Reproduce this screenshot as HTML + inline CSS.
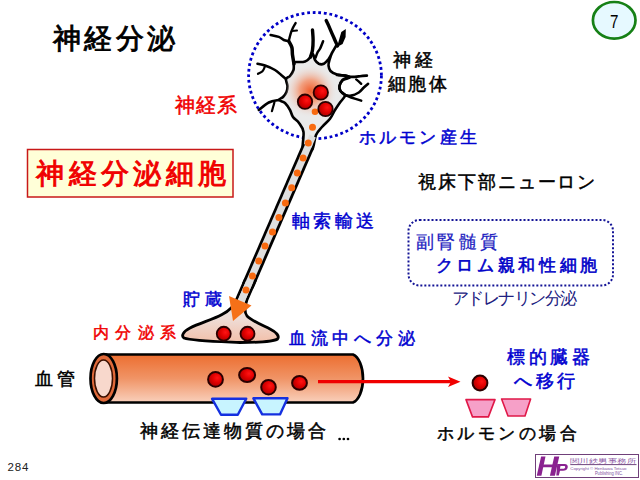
<!DOCTYPE html>
<html><head><meta charset="utf-8">
<style>
html,body{margin:0;padding:0;background:#fff;}
body{width:640px;height:480px;position:relative;overflow:hidden;font-family:"Liberation Sans",sans-serif;}
.t{position:absolute;white-space:nowrap;line-height:1;}
svg{position:absolute;left:0;top:0;}
</style></head><body>
<svg width="640" height="480" viewBox="0 0 640 480">
<defs>
<radialGradient id="ball" cx="0.62" cy="0.4" r="0.6">
<stop offset="0" stop-color="#ff1414"/><stop offset="0.55" stop-color="#e00000"/><stop offset="1" stop-color="#b00000"/>
</radialGradient>
<radialGradient id="glow" cx="0.5" cy="0.5" r="0.5">
<stop offset="0" stop-color="#f06030"/><stop offset="0.4" stop-color="#f2a080"/><stop offset="1" stop-color="#e8e8e8" stop-opacity="0"/>
</radialGradient>
<linearGradient id="vessel" x1="0" y1="0" x2="0" y2="1">
<stop offset="0" stop-color="#ec6e30"/><stop offset="0.5" stop-color="#f09466"/><stop offset="1" stop-color="#f9d0bc"/>
</linearGradient>
<linearGradient id="term" gradientUnits="userSpaceOnUse" x1="0" y1="300" x2="0" y2="342">
<stop offset="0" stop-color="#e8e6e6"/><stop offset="0.45" stop-color="#eedcd6"/><stop offset="1" stop-color="#f2c0aa"/>
</linearGradient>
<clipPath id="bodyclip"><path d="M303.0,150.0 C301.6,147.0 304.2,136.5 303.5,132.0 C302.8,127.5 300.8,125.5 299.0,123.0 C297.2,120.5 294.5,119.2 293.0,117.0 C291.5,114.8 291.3,112.3 290.0,110.0 C288.7,107.7 286.8,104.7 285.0,103.0 C283.2,101.3 279.3,101.0 279.0,100.0 C278.7,99.0 281.8,98.3 283.0,97.0 C284.2,95.7 285.8,93.8 286.5,92.0 C287.2,90.2 287.6,88.2 287.5,86.0 C287.4,83.8 285.6,80.7 286.0,79.0 C286.4,77.3 288.8,77.5 290.0,76.0 C291.2,74.5 292.8,72.2 293.5,70.0 C294.2,67.8 293.4,64.3 294.0,63.0 C294.6,61.7 295.5,62.2 297.0,62.0 C298.5,61.8 301.3,62.2 303.0,62.0 C304.7,61.8 305.8,61.3 307.0,60.5 C308.2,59.7 309.5,58.1 310.5,57.0 C311.5,55.9 312.2,53.5 313.0,54.0 C313.8,54.5 314.0,58.4 315.0,60.0 C316.0,61.6 317.3,63.1 318.8,63.8 C320.2,64.4 322.1,64.6 323.8,63.8 C325.4,62.9 327.3,60.7 328.8,58.8 C330.2,56.8 331.3,54.1 332.5,52.0 C333.7,49.9 336.1,45.8 336.0,46.0 C335.9,46.2 333.1,50.7 332.0,53.0 C330.9,55.3 330.1,57.9 329.5,60.0 C328.9,62.1 328.3,63.7 328.5,65.5 C328.7,67.3 329.1,69.5 330.5,71.0 C331.9,72.5 334.6,73.7 337.0,74.5 C339.4,75.3 342.8,75.1 345.0,75.6 C347.2,76.1 350.3,76.8 350.0,77.5 C349.7,78.2 344.8,78.6 343.0,80.0 C341.2,81.4 339.9,84.1 339.5,86.0 C339.1,87.9 339.7,89.7 340.6,91.2 C341.5,92.8 345.1,93.6 345.0,95.5 C344.9,97.4 341.7,100.1 340.0,102.5 C338.3,104.9 336.7,107.3 335.0,110.0 C333.3,112.7 332.2,115.9 330.0,118.8 C327.8,121.6 324.3,124.3 322.0,127.0 C319.7,129.7 317.7,131.2 316.0,135.0 C314.3,138.8 314.2,147.5 312.0,150.0 C309.8,152.5 304.4,153.0 303.0,150.0Z"/></clipPath>
</defs>

<ellipse cx="614.2" cy="20.3" rx="21.3" ry="18.3" fill="#e6f9ff" stroke="#168016" stroke-width="2.7"/>

<ellipse cx="315" cy="75.6" rx="66.4" ry="63.1" fill="none" stroke="#0000c8" stroke-width="2.8" stroke-dasharray="2.8 2.8"/>

<path d="M303.0,150.0 C301.6,147.0 304.2,136.5 303.5,132.0 C302.8,127.5 300.8,125.5 299.0,123.0 C297.2,120.5 294.5,119.2 293.0,117.0 C291.5,114.8 291.3,112.3 290.0,110.0 C288.7,107.7 286.8,104.7 285.0,103.0 C283.2,101.3 279.3,101.0 279.0,100.0 C278.7,99.0 281.8,98.3 283.0,97.0 C284.2,95.7 285.8,93.8 286.5,92.0 C287.2,90.2 287.6,88.2 287.5,86.0 C287.4,83.8 285.6,80.7 286.0,79.0 C286.4,77.3 288.8,77.5 290.0,76.0 C291.2,74.5 292.8,72.2 293.5,70.0 C294.2,67.8 293.4,64.3 294.0,63.0 C294.6,61.7 295.5,62.2 297.0,62.0 C298.5,61.8 301.3,62.2 303.0,62.0 C304.7,61.8 305.8,61.3 307.0,60.5 C308.2,59.7 309.5,58.1 310.5,57.0 C311.5,55.9 312.2,53.5 313.0,54.0 C313.8,54.5 314.0,58.4 315.0,60.0 C316.0,61.6 317.3,63.1 318.8,63.8 C320.2,64.4 322.1,64.6 323.8,63.8 C325.4,62.9 327.3,60.7 328.8,58.8 C330.2,56.8 331.3,54.1 332.5,52.0 C333.7,49.9 336.1,45.8 336.0,46.0 C335.9,46.2 333.1,50.7 332.0,53.0 C330.9,55.3 330.1,57.9 329.5,60.0 C328.9,62.1 328.3,63.7 328.5,65.5 C328.7,67.3 329.1,69.5 330.5,71.0 C331.9,72.5 334.6,73.7 337.0,74.5 C339.4,75.3 342.8,75.1 345.0,75.6 C347.2,76.1 350.3,76.8 350.0,77.5 C349.7,78.2 344.8,78.6 343.0,80.0 C341.2,81.4 339.9,84.1 339.5,86.0 C339.1,87.9 339.7,89.7 340.6,91.2 C341.5,92.8 345.1,93.6 345.0,95.5 C344.9,97.4 341.7,100.1 340.0,102.5 C338.3,104.9 336.7,107.3 335.0,110.0 C333.3,112.7 332.2,115.9 330.0,118.8 C327.8,121.6 324.3,124.3 322.0,127.0 C319.7,129.7 317.7,131.2 316.0,135.0 C314.3,138.8 314.2,147.5 312.0,150.0 C309.8,152.5 304.4,153.0 303.0,150.0Z" fill="#eaeaea" stroke="#000" stroke-width="2.6" stroke-linejoin="round"/>
<circle cx="310.5" cy="91" r="27" fill="url(#glow)" clip-path="url(#bodyclip)"/>
<polygon points="345.8,29 345.6,37 342.6,44 337,47 339,40 341.3,32" fill="#000"/>
<g fill="none" stroke="#000" stroke-linecap="round" stroke-linejoin="round">
<path d="M294.0,64.0 C293.8,62.5 292.9,57.8 292.5,55.0 C292.1,52.2 292.5,49.8 291.9,47.5 C291.3,45.2 289.3,42.3 288.8,41.2" stroke-width="3.5"/>
<path d="M288.8,41.2 C287.9,41.0 285.4,40.7 283.8,40.0 C282.1,39.3 280.9,37.7 278.8,36.9 C276.6,36.1 272.0,35.3 270.6,35.0" stroke-width="2.5"/>
<path d="M288.8,41.0 C289.1,39.8 289.9,36.0 290.6,33.8 C291.3,31.5 292.3,29.3 293.1,27.5 C293.9,25.7 295.2,23.8 295.6,23.1" stroke-width="2.4"/>
<path d="M292.0,31.0 C292.8,30.9 296.2,30.7 297.0,30.6" stroke-width="2"/>
<path d="M310.5,57.0 C310.8,55.8 312.1,52.8 312.5,50.0 C312.9,47.2 313.1,43.3 313.1,40.0 C313.1,36.7 312.6,31.7 312.5,30.0" stroke-width="3.4"/>
<path d="M315.6,57.5 C315.9,56.7 316.8,54.0 317.5,52.5 C318.2,51.0 319.1,50.6 320.0,48.8 C320.9,46.9 322.6,42.5 323.1,41.2" stroke-width="2.5"/>
<path d="M337.5,46.0 C336.9,44.6 335.0,40.4 333.8,37.5 C332.5,34.6 331.2,31.6 330.0,28.8 C328.8,25.9 326.9,22.0 326.2,20.6" stroke-width="3.4"/>
<path d="M337.0,75.0 C338.3,75.1 342.6,75.3 345.0,75.6 C347.4,75.9 348.8,76.8 351.2,76.9 C353.8,77.0 357.4,76.5 360.0,76.2 C362.6,76.0 365.8,75.7 366.9,75.6" stroke-width="2.6"/>
<path d="M356.2,79.4 C357.1,80.1 360.4,83.0 361.2,83.8" stroke-width="2.4"/>
<path d="M348.1,77.5 C347.2,77.9 343.9,78.5 342.5,80.0 C341.1,81.5 339.7,84.4 339.4,86.2 C339.1,88.1 339.7,89.8 340.6,91.2 C341.5,92.7 343.2,94.3 345.0,95.0 C346.8,95.7 349.0,96.0 351.2,95.6 C353.5,95.2 356.7,93.8 358.8,92.5 C360.8,91.2 362.2,89.0 363.8,87.5 C365.3,86.0 367.4,84.4 368.1,83.8" stroke-width="2.6"/>
<path d="M345.0,95.0 C346.0,95.4 348.5,96.6 351.2,97.5 C354.0,98.4 359.6,100.1 361.2,100.6" stroke-width="2.5"/>
<path d="M286.0,79.0 C285.2,78.3 283.1,76.5 281.2,75.0 C279.4,73.5 277.7,71.6 275.0,70.0 C272.3,68.4 267.9,66.6 265.0,65.6 C262.1,64.6 258.8,64.1 257.5,63.8" stroke-width="2.6"/>
<path d="M265.0,66.2 C264.6,67.1 263.7,70.0 262.5,71.2 C261.3,72.5 258.8,73.3 258.0,73.8" stroke-width="2.2"/>
<path d="M279.0,100.0 C277.3,100.4 272.1,100.8 268.8,102.5 C265.4,104.2 260.4,108.8 258.8,110.0" stroke-width="2.6"/>
<path d="M274.4,102.5 C274.0,104.0 272.3,109.8 271.9,111.2" stroke-width="2.2"/>
</g>

<line x1="308.3" y1="146" x2="247.7" y2="286" stroke="#000" stroke-width="12.5"/>
<path d="M245,280 L236.3,300 C234,306 229,311 222,314.5 C213,319.5 200,323 190,328 C183,331.5 181,336 184,338 C192,341 215,341.5 240,342.5 C262,342.5 274,341.5 277.5,339 C280,336 276,332 270,329 C262,325 252,321 247,316 C244,312 244.5,307 246.9,300 L255.6,280 Z" fill="url(#term)" stroke="#000" stroke-width="2.8" stroke-linejoin="round"/>
<line x1="312.6" y1="136" x2="239" y2="306" stroke="#dedede" stroke-width="7"/>
<g fill="#f86a10">
<circle cx="315" cy="111.7" r="3.3"/>
<circle cx="312.5" cy="127.3" r="3.5"/>
<circle cx="308.3" cy="142.9" r="3.5"/>
<circle cx="303.1" cy="158.1" r="3.5"/>
<circle cx="297.3" cy="173.1" r="3.5"/>
<circle cx="291.7" cy="187.7" r="3.5"/>
<circle cx="285.4" cy="202.9" r="3.5"/>
<circle cx="278.9" cy="217.5" r="3.5"/>
<circle cx="272.5" cy="232" r="3.5"/>
<circle cx="265" cy="246" r="3.5"/>
<circle cx="258.75" cy="261" r="3.5"/>
<circle cx="252.5" cy="276" r="3.5"/>
<circle cx="246" cy="290" r="3.5"/>
</g>
<polygon points="229,296 251.5,305.5 233,321" fill="#f57018"/>

<g fill="url(#ball)" stroke="#2a0000" stroke-width="1.8">
<circle cx="305" cy="101.7" r="7.2"/>
<circle cx="320.8" cy="92.5" r="7.2"/>
<circle cx="325.5" cy="109" r="7.2"/>
<circle cx="223.75" cy="333.75" r="7"/>
<circle cx="247.5" cy="333.75" r="7"/>
</g>

<path d="M104,354.5 H353 A12.5 24.5 0 0 1 353,402.5 H104 Z" fill="url(#vessel)" stroke="#000" stroke-width="2.7"/>
<ellipse cx="103.7" cy="378.5" rx="13.2" ry="24.5" fill="#e06a3a" stroke="#000" stroke-width="2.7"/>
<ellipse cx="103.5" cy="378.5" rx="9" ry="18.5" fill="#f8d8cc" stroke="#3a1000" stroke-width="1.5"/>
<g fill="url(#ball)" stroke="#2a0000" stroke-width="2">
<circle cx="215.5" cy="379.4" r="7.4"/>
<ellipse cx="247.1" cy="375" rx="8" ry="7"/>
<circle cx="268.5" cy="387.2" r="7.3"/>
<ellipse cx="299.5" cy="382.9" rx="7.4" ry="6.9"/>
<circle cx="480" cy="383" r="7.4"/>
</g>
<line x1="318" y1="381.7" x2="452" y2="381.7" stroke="#f00000" stroke-width="3.2"/>
<polygon points="460.5,381.7 448,376.5 451,381.7 448,387" fill="#f00000"/>

<g fill="#c8f4ff" stroke="#1430e0" stroke-width="2.4" stroke-linejoin="round">
<polygon points="212.1,398.8 246.25,398.8 237.8,414.75 221,414.75"/>
<polygon points="253.4,398.3 287.5,398.3 280,414.4 262.2,414.4"/>
</g>
<g fill="#f6a0c8" stroke="#e01848" stroke-width="1.6" stroke-linejoin="round">
<polygon points="466,399.6 495,399.6 488.4,416.9 472.5,416.9"/>
<polygon points="501.6,399 530.6,399 525,416 508,416"/>
</g>

<g fill="#000"><circle cx="339.6" cy="439" r="1.35"/><circle cx="343.8" cy="439" r="1.35"/><circle cx="348" cy="439" r="1.35"/></g>
<rect x="27.5" y="149.5" width="205.5" height="47.5" fill="#ffffd8" stroke="#c81818" stroke-width="1.5"/>
<rect x="408.5" y="220" width="204.5" height="65.5" rx="11" ry="11" fill="none" stroke="#141496" stroke-width="2" stroke-dasharray="2 2"/>

<rect x="535.5" y="454.5" width="103" height="23" fill="#fff" stroke="#70407a" stroke-width="1"/>
<g fill="#8a2290">
<polygon points="541.1,456.4 545.5,456.4 541.4,475.75 536.75,475.75"/>
<polygon points="554.25,456.4 559.25,456.4 554.9,475.75 549.9,475.75"/>
<polygon points="539.6,464.5 556.6,464.5 556,467.3 539,467.3"/>
<path fill-rule="evenodd" d="M557.2,463.9 H564.5 C567,463.9 568.2,465.5 567.7,467.5 C567.2,469.8 565.5,470.8 563,470.8 H560 L558.8,475.5 H556.3 Z M560.5,466 L559.9,468.8 H562.8 C564,468.8 565,468.2 565.2,467.2 C565.4,466.4 564.8,466 563.8,466 Z"/>
</g>
<text x="569.7" y="462.6" font-family="Liberation Serif" font-size="6.3" fill="#9060a8" textLength="66.8" lengthAdjust="spacingAndGlyphs">関川鉄男事務所</text>
<line x1="570.3" y1="464.6" x2="636.5" y2="464.6" stroke="#603070" stroke-width="0.9"/>
<text x="570.3" y="470.2" font-family="Liberation Sans" font-size="4.2" fill="#8050a0" textLength="56.2" lengthAdjust="spacingAndGlyphs">Copyright © Henkawa Tetsuo</text>
<text x="594.9" y="475.2" font-family="Liberation Sans" font-size="4.8" fill="#8050a0" textLength="28.1" lengthAdjust="spacingAndGlyphs">Publishing INC.</text>
</svg>

<div class="t" id="t1" style="left:52.5px;top:24px;font-size:28.375px;color:#000;letter-spacing:3.5px;-webkit-text-stroke:0.9px;">神経分泌</div>
<div class="t" id="t2" style="left:174.8px;top:95.8px;font-size:19.5px;color:#f00000;letter-spacing:1px;-webkit-text-stroke:0.5px;">神経系</div>
<div class="t" id="t3" style="left:392.9px;top:51.3px;font-size:18px;color:#000;letter-spacing:3.9px;-webkit-text-stroke:0.5px;">神経</div>
<div class="t" id="t4" style="left:387.6px;top:74.6px;font-size:18px;color:#000;letter-spacing:2.9px;-webkit-text-stroke:0.5px;">細胞体</div>
<div class="t" id="t5" style="left:358.8px;top:129.9px;font-size:16.75px;color:#0000d0;letter-spacing:3.2px;-webkit-text-stroke:0.5px;">ホルモン産生</div>
<div class="t" id="t6" style="left:36.2px;top:160px;font-size:28px;color:#f00000;letter-spacing:4.35px;-webkit-text-stroke:1px;">神経分泌細胞</div>
<div class="t" id="t7" style="left:418.2px;top:173.2px;font-size:18px;color:#000;letter-spacing:1.9px;-webkit-text-stroke:0.5px;">視床下部ニューロン</div>
<div class="t" id="t8" style="left:291.8px;top:212.25px;font-size:18px;color:#0000d0;letter-spacing:3.5px;-webkit-text-stroke:0.45px;">軸索輸送</div>
<div class="t" id="t9" style="left:415.6px;top:232.5px;font-size:18.125px;color:#2020c0;letter-spacing:3.6px;-webkit-text-stroke:0.2px;">副腎髄質</div>
<div class="t" id="t10" style="left:435.6px;top:256.9px;font-size:16.5px;color:#0000c8;letter-spacing:3.7px;-webkit-text-stroke:0.6px;">クロム親和性細胞</div>
<div class="t" id="t11" style="left:451.5px;top:290px;font-size:17px;color:#202080;letter-spacing:-1.5px;">アドレナリン分泌</div>
<div class="t" id="t12" style="left:183px;top:291px;font-size:17px;color:#0000d0;letter-spacing:5px;-webkit-text-stroke:0.5px;">貯蔵</div>
<div class="t" id="t13" style="left:92.5px;top:324.5px;font-size:16px;color:#f00000;letter-spacing:6.6px;-webkit-text-stroke:0.5px;">内分泌系</div>
<div class="t" id="t14" style="left:288.75px;top:329.75px;font-size:17px;color:#0000d0;letter-spacing:4.8px;-webkit-text-stroke:0.5px;">血流中へ分泌</div>
<div class="t" id="t15" style="left:506.75px;top:347.5px;font-size:18px;color:#0000d0;letter-spacing:3.85px;-webkit-text-stroke:0.5px;">標的臓器</div>
<div class="t" id="t16" style="left:514.4px;top:372.9px;font-size:17.5px;color:#0000d0;letter-spacing:3.35px;-webkit-text-stroke:0.5px;">へ移行</div>
<div class="t" id="t17" style="left:35px;top:370px;font-size:18px;color:#000;letter-spacing:4px;-webkit-text-stroke:0.5px;">血管</div>
<div class="t" id="t18" style="left:139.8px;top:422.4px;font-size:18.375px;color:#000;letter-spacing:3.05px;-webkit-text-stroke:0.5px;">神経伝達物質の場合</div>
<div class="t" id="t19" style="left:436.7px;top:426.2px;font-size:16.75px;color:#000;letter-spacing:3.5px;-webkit-text-stroke:0.5px;">ホルモンの場合</div>
<div class="t" id="t20" style="left:7.6px;top:461.9px;font-size:11.5px;color:#202020;letter-spacing:0.8px;">284</div>
<div class="t" id="t21" style="left:610.1px;top:12.1px;font-size:19px;color:#000;transform:scaleX(0.8);transform-origin:0 0;letter-spacing:0px;">7</div>
</body></html>
